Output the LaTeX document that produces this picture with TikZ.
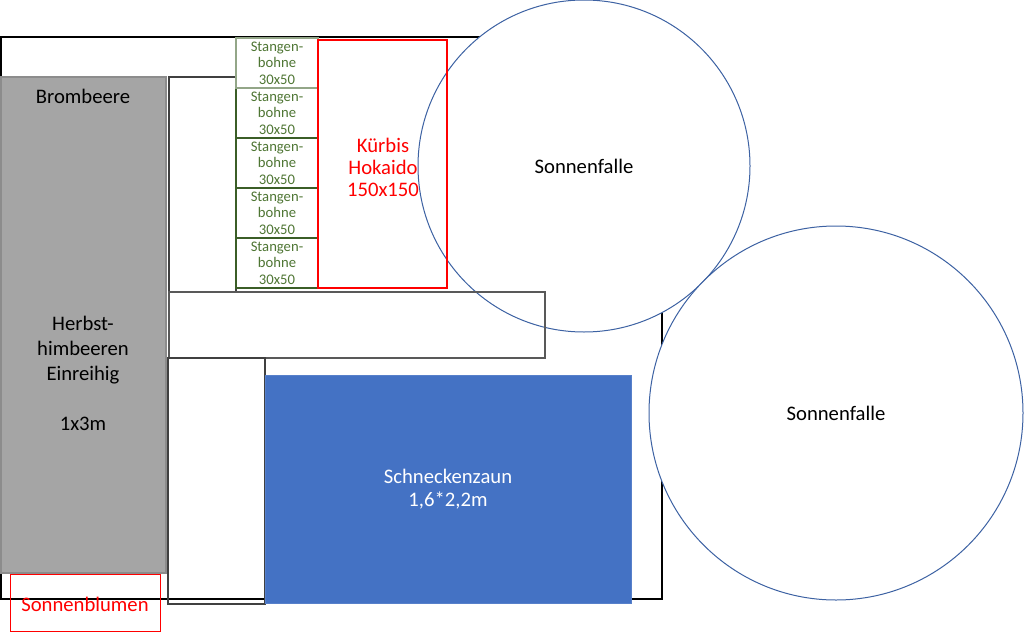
\documentclass[tikz,border=0pt]{standalone}
\usepackage{fontspec}
\setmainfont{Carlito}
\definecolor{kreisblau}{HTML}{3D62A3}
\definecolor{zaunblau}{HTML}{4472C4}
\definecolor{beetgrau}{HTML}{A5A5A5}
\definecolor{bohnegruen}{HTML}{3B5E27}
\definecolor{bohnetext}{HTML}{4E7533}
\newcommand{\bohne}{Stangen-\\bohne\\30x50}

\begin{document}
\begin{tikzpicture}[x=0.75pt, y=-0.75pt,
    every node/.style={align=center, font=\fontsize{15.5pt}{18.75pt}\selectfont},
    beet/.style={draw=black!75, line width=0.8pt},
    falle/.style={draw=kreisblau, fill=white, line width=0.75pt},
    bohnebox/.style={draw=bohnegruen, line width=1pt},
    bohnelabel/.style={text=bohnetext, font=\fontsize{11pt}{12.4pt}\selectfont}]
    \useasboundingbox (0,0) rectangle (1024,632);
    % Grundstueck
    \draw[black, line width=1pt] (1,37) rectangle (662,599);
    \draw[falle] (584,166) circle (166);
    \node (falle1) at (584,166) {Sonnenfalle};
    % Beete links
    \draw[fill=beetgrau, draw=black!45, line width=0.8pt] (1,77) rectangle (166,573);
    \node (brom) at (83,96) {Brombeere};
    \node (himb) at (83,373) {Herbst-\\himbeeren\\Einreihig\\[18.75pt]1x3m};
    \draw[red, line width=0.75pt] (10,574) rectangle (160,631);
    \node[text=red] (blumen) at (85,604) {Sonnenblumen};
    \draw[beet] (169,77) rectangle (236,292);
    \draw[beet, draw=black!65] (169,292) rectangle (545,358);
    \draw[beet] (168,358) rectangle (265,604);
    % Bohnen und Kuerbis
    \foreach \i in {0,...,4} {
        \draw[bohnebox] (236,38+50*\i) rectangle (318,88+50*\i);
        \node[bohnelabel] (bohne\i) at (277,63+50*\i) {\bohne};
    }
    \draw[bohnebox, draw=bohnegruen!55] (236,38) rectangle (318,88);
    \draw[red, line width=0.8pt] (318,40) rectangle (447,288);
    \node[text=red, font=\fontsize{15.5pt}{16.5pt}\selectfont] (kuerbis) at (383,167) {Kürbis\\Hokaido\\150x150};
    % Schneckenzaun
    \draw[fill=zaunblau, draw=zaunblau!90!white, line width=0.75pt] (265,375) rectangle (631,603);
    \node[text=white, font=\fontsize{15.5pt}{17.25pt}\selectfont] (zaun) at (448,489) {Schneckenzaun\\1,6*2,2m};
    \draw[falle] (836,413) circle (187);
    \node (falle2) at (836,413) {Sonnenfalle};
\end{tikzpicture}
\end{document}
